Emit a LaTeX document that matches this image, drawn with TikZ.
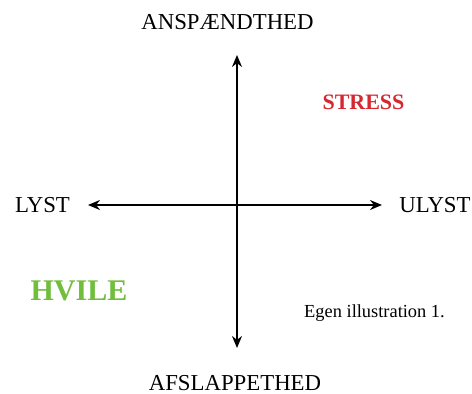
\documentclass[tikz,border=0pt]{standalone}
\usepackage{fontspec}
\setmainfont{Liberation Serif}
\usetikzlibrary{arrows.meta}
\definecolor{stressred}{RGB}{214,40,48}
\definecolor{hvilegreen}{RGB}{112,190,60}
\tikzset{
  axislabel/.style={anchor=base,inner sep=0pt,font=\fontsize{22.8}{26}\selectfont},
  axisline/.style={line width=1.6pt,{Stealth[length=12pt,width=10pt]}-{Stealth[length=12pt,width=10pt]}},
}
\begin{document}
\begin{tikzpicture}[x=1pt,y=-1pt]
\useasboundingbox (0,0) rectangle (472,394);
\fill[white] (0,0) rectangle (472,394);
\coordinate (top) at (237,55);
\coordinate (bottom) at (237,348);
\coordinate (left) at (88,205);
\coordinate (right) at (382,205);
\draw[axisline] (bottom) -- (top);
\draw[axisline] (left) -- (right);
\node[axislabel] (ansp) at (227.5,29) {ANSPÆNDTHED};
\node[axislabel] (afsl) at (235,390) {AFSLAPPETHED};
\node[axislabel] (lyst) at (42.5,212) {LYST};
\node[axislabel] (ulyst) at (435,212) {ULYST};
\node[anchor=base,inner sep=0pt,font=\fontsize{22}{26}\selectfont\bfseries,text=stressred] (stress) at (363.5,109) {STRESS};
\node[anchor=base,inner sep=0pt,font=\fontsize{30}{34}\selectfont\bfseries,text=hvilegreen] (hvile) at (79,300) {HVILE};
\node[anchor=base,inner sep=0pt,font=\fontsize{18.4}{21}\selectfont] (egen) at (374.5,317) {Egen illustration 1.};
\end{tikzpicture}
\end{document}
